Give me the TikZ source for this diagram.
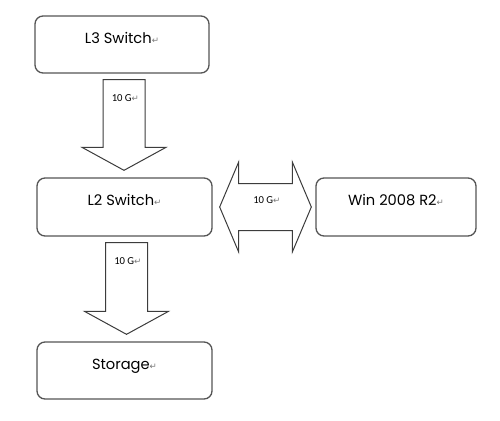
\documentclass[tikz,border=0pt]{standalone}
\usepackage{fontspec}
\setmainfont{Poppins}
\newfontfamily\labelfont{Carlito}
\newfontfamily\markfont{DejaVu Sans}
\usetikzlibrary{calc}
\definecolor{rand}{RGB}{85,85,85}
\definecolor{pfeilrand}{RGB}{60,60,60}
\definecolor{absatzgrau}{RGB}{120,120,120}
\newcommand{\absatz}{{\markfont\fontsize{6.5}{6.5}\selectfont\textcolor{absatzgrau}{↵}}}

\begin{document}
\begin{tikzpicture}[x=0.75pt,y=-0.75pt,
  kasten/.style={draw=rand, line width=1pt, rounded corners=6pt, text height=8.25pt, text depth=10.5pt, font=\fontsize{11}{13}\selectfont},
  pfeil/.style={draw=pfeilrand, line width=0.75pt, fill=white, line join=miter},
  rate/.style={inner sep=0pt, anchor=base west, font=\labelfont\fontsize{8}{9}\selectfont}]

    \useasboundingbox (0,0) rectangle (500,421);

    \node[kasten, minimum width=130.5pt, minimum height=42.75pt] (l3) at (122,44.5) {L3 Switch\absatz};
    \node[kasten, minimum width=131.25pt, minimum height=43.5pt] (l2) at (124.5,207) {L2 Switch\absatz};
    \node[kasten, minimum width=120pt, minimum height=43.5pt] (win) at (396,207) {Win 2008 R2\absatz};
    \node[kasten, minimum width=131.25pt, minimum height=42.75pt] (storage) at (124.5,370.5) {Storage\absatz};

				\foreach \von/\nach in {l3/l2, l2/storage}{
					\coordinate (oben) at ($(\von.south)+(2,6)$);
					\coordinate (ziel) at (\nach.north);
					\draw[pfeil] ($(oben)+(-21,0)$) -- ($(oben)+(21,0)$) -- ($(oben |- ziel)+(21,-30)$) -- ($(oben |- ziel)+(42,-30)$) -- ($(oben |- ziel)+(0,-7)$) -- ($(oben |- ziel)+(-42,-30)$) -- ($(oben |- ziel)+(-21,-30)$) -- cycle;
					\node[rate] (rate-\von) at ($(oben)+(-12.5,22)$) {10 G\absatz};
			}

				\coordinate (links) at ($(l2.east)+(7,0)$);
				\coordinate (rechts) at ($(win.west)+(-4,0)$);
				\draw[pfeil] (links) -- ($(links)+(19,-45)$) -- ($(links)+(19,-23.5)$) -- ($(rechts)+(-19,-23.5)$) -- ($(rechts)+(-19,-45)$) -- (rechts) -- ($(rechts)+(-19,45)$) -- ($(rechts)+(-19,23.5)$) -- ($(links)+(19,23.5)$) -- ($(links)+(19,45)$) -- cycle;
				\node[rate] (rate-win) at ($(links)!0.5!(rechts)+(-12.5,-4)$) {10 G\absatz};

\end{tikzpicture}
\end{document}
